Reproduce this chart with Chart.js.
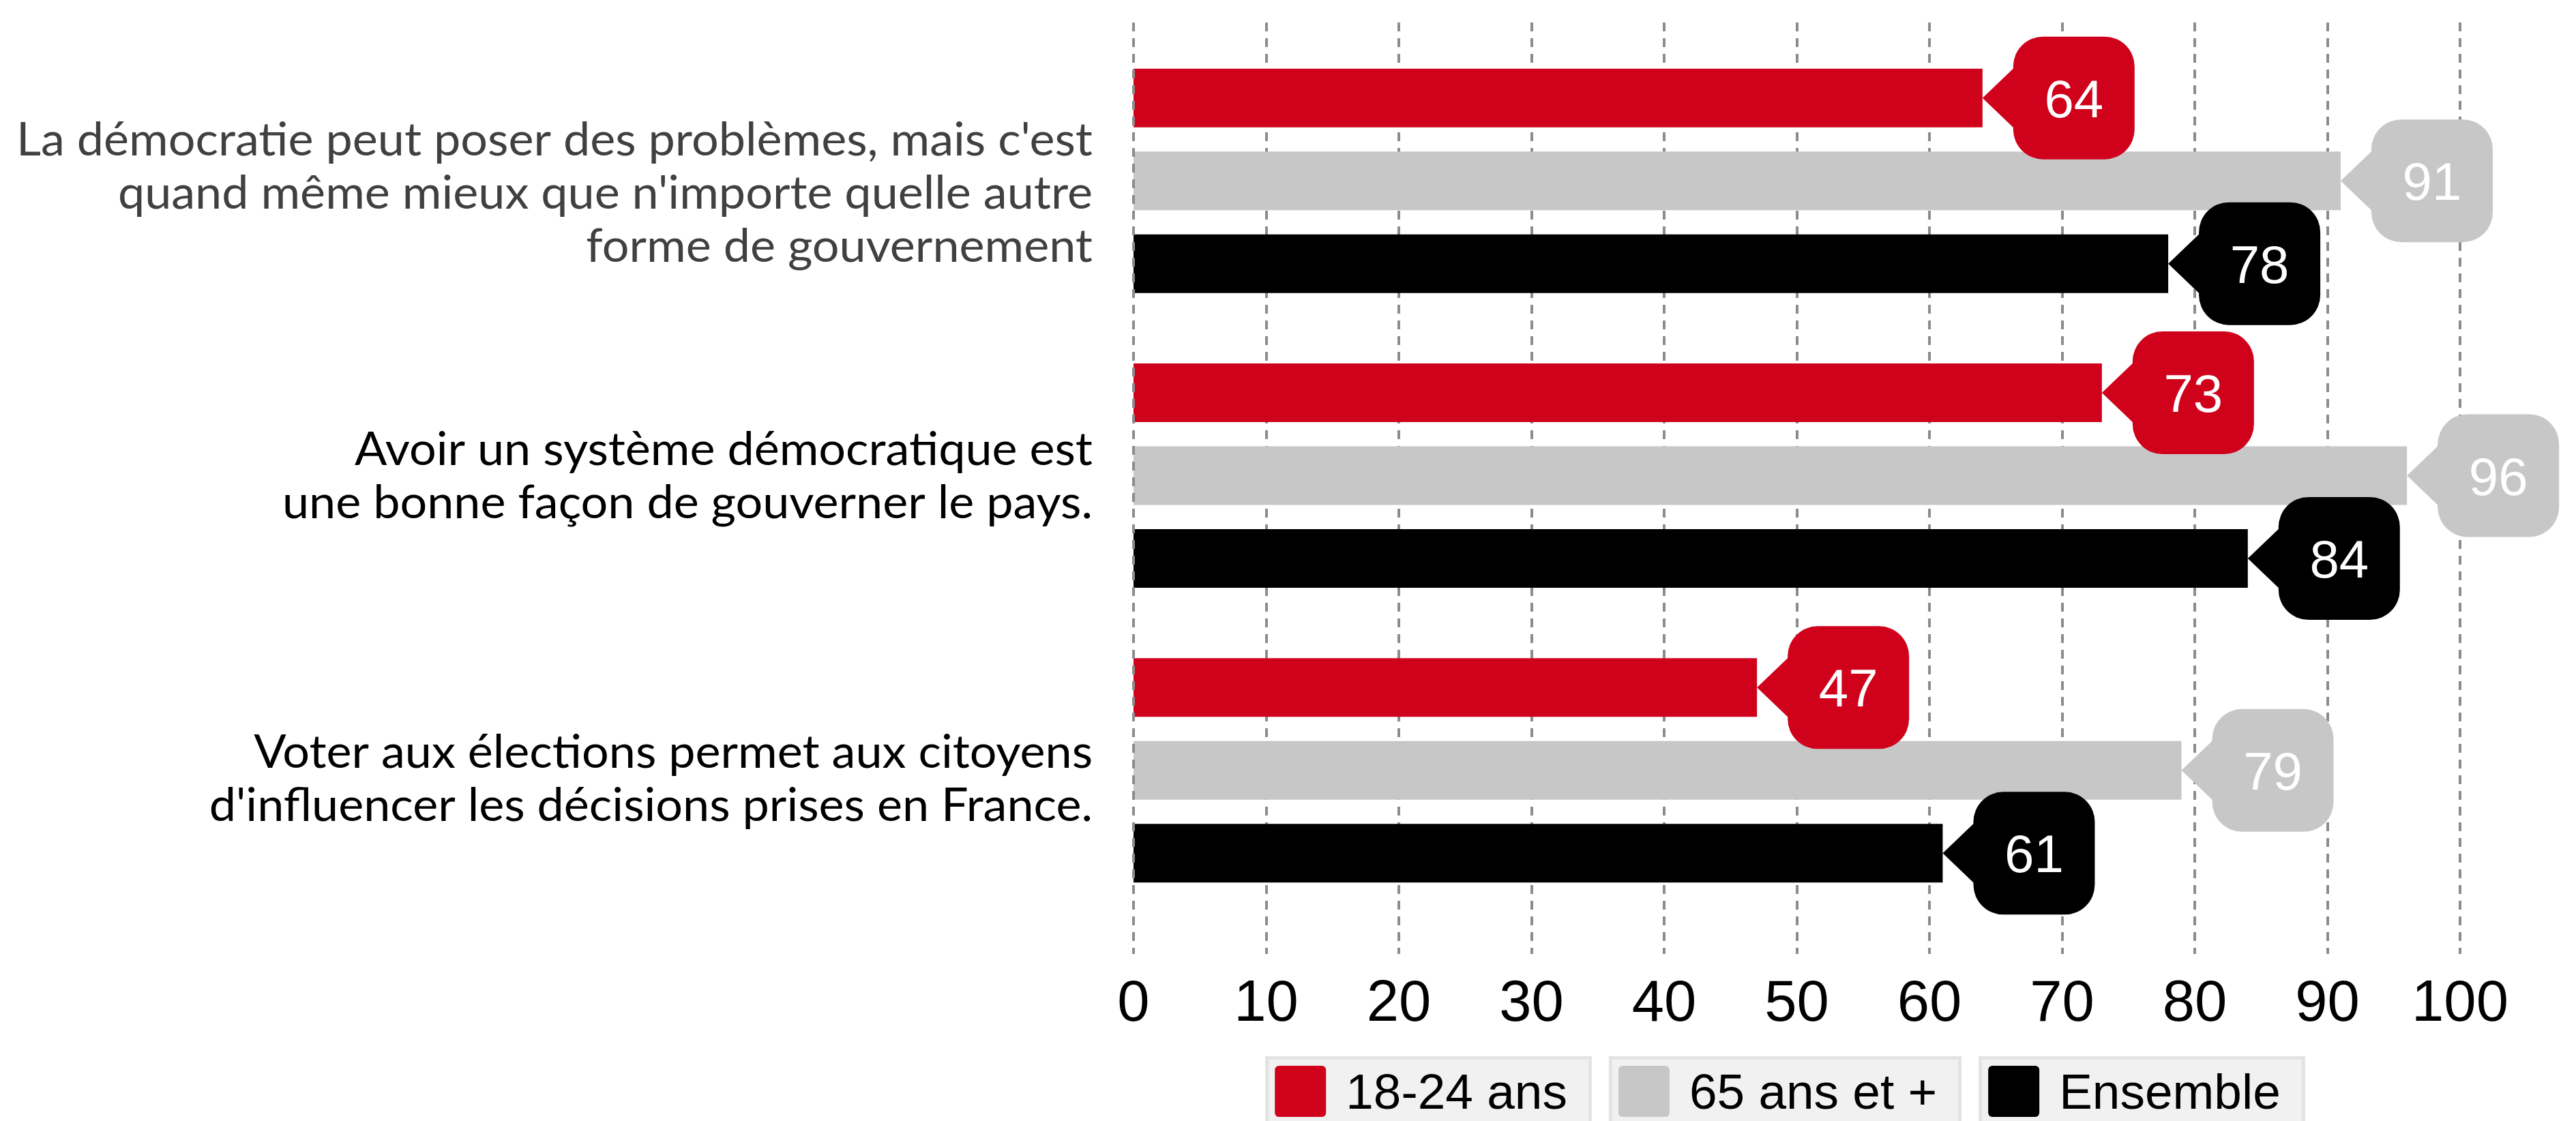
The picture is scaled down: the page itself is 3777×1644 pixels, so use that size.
<!DOCTYPE html>
<html lang="fr">
<head>
<meta charset="utf-8">
<title>Démocratie - 18-24 ans / 65 ans et + / Ensemble</title>
<script src="https://cdn.jsdelivr.net/npm/chart.js@4.4.0/dist/chart.umd.min.js"></script>
<style>
  html, body { margin: 0; padding: 0; background: #fff; }
  #wrap { width: 3777px; height: 1644px; }
</style>
</head>
<body>
<div id="wrap"><canvas id="myChart" width="3777" height="1644"></canvas></div>
<script>
// Questions (one array of lines per category)
const categories = [
    ["La démocratie peut poser des problèmes, mais c'est", "quand même mieux que n'importe quelle autre", "forme de gouvernement"],
    ["Avoir un système démocratique est", "une bonne façon de gouverner le pays."],
    ["Voter aux élections permet aux citoyens", "d'influencer les décisions prises en France."]
];
const seriesNames = ['18-24 ans', '65 ans et +', 'Ensemble'];
const jeunes = [64, 73, 47];
const seniors = [91, 96, 79];
const ensemble = [78, 84, 61];
const xMin = 0;
const xMax = 100;
const xStep = 10;

const colors = ['#d0011b', '#c7c7c7', '#000000'];
const labelColors = ['#404040', '#000000', '#000000'];
const labelShift = [18, 0, 12]; // small vertical nudges of the question blocks
const numFont = '"Liberation Sans", Arial, sans-serif';
const labelFont = 'Lato, "Open Sans", sans-serif';

// Dashed vertical grid lines, a bit taller than the plot area
function drawGrid(chart, zeroOnly) {
    const { ctx, chartArea, scales } = chart;
    ctx.save();
    ctx.strokeStyle = '#8c8c8c';
    ctx.lineWidth = 4;
    ctx.setLineDash([13, 10]);
    scales.x.ticks.forEach(t => {
        if ((t.value === 0) !== zeroOnly) return;
        const px = Math.round(scales.x.getPixelForValue(t.value));
        ctx.beginPath();
        ctx.moveTo(px, chartArea.top - 16);
        ctx.lineTo(px, chartArea.bottom + 53);
        ctx.stroke();
    });
    ctx.restore();
}

const gridPlugin = {
    id: 'gridPlugin',
    beforeDatasetsDraw(chart) { drawGrid(chart, false); },
    afterDatasetsDraw(chart) { drawGrid(chart, true); }
};

// Speech-bubble value labels at the end of each bar
const calloutPlugin = {
    id: 'calloutPlugin',
    afterDatasetsDraw(chart) {
        const ctx = chart.ctx;
        const w = 178, h = 180, r = 44, arrow = 45;
        chart.data.datasets.forEach((ds, di) => {
            chart.getDatasetMeta(di).data.forEach((bar, i) => {
                const tipX = bar.x, y = bar.y;
                const bx = tipX + arrow;
                ctx.save();
                ctx.fillStyle = ds.backgroundColor;
                ctx.beginPath();
                ctx.roundRect(bx, y - h / 2, w, h, r);
                ctx.fill();
                ctx.beginPath();
                ctx.moveTo(tipX, y);
                ctx.lineTo(bx + 2, y - arrow);
                ctx.lineTo(bx + 2, y + arrow);
                ctx.closePath();
                ctx.fill();
                ctx.fillStyle = '#ffffff';
                ctx.font = '78px ' + numFont;
                ctx.textAlign = 'center';
                ctx.textBaseline = 'alphabetic';
                ctx.fillText(String(ds.data[i]), bx + w / 2, y + 28);
                ctx.restore();
            });
        });
    }
};

// Category labels, right aligned and fitted to the left margin width
const labelPlugin = {
    id: 'labelPlugin',
    afterDraw(chart) {
        const { ctx, chartArea, scales } = chart;
        const maxWidth = 1578;
        const lineH = 78;
        ctx.save();
        ctx.font = '68px ' + labelFont;
        let widest = 0;
        categories.forEach(lines => lines.forEach(l => { widest = Math.max(widest, ctx.measureText(l).width); }));
        const sx = maxWidth / widest;
        const right = chartArea.left - 60;
        ctx.textAlign = 'right';
        ctx.textBaseline = 'alphabetic';
        categories.forEach((lines, i) => {
            const cy = scales.y.getPixelForTick(i) + labelShift[i];
            const y0 = cy - (lines.length - 1) * lineH / 2;
            ctx.fillStyle = labelColors[i];
            lines.forEach((line, j) => {
                ctx.save();
                ctx.translate(right, y0 + j * lineH + 23);
                ctx.scale(sx, 1);
                ctx.fillText(line, 0, 0);
                ctx.restore();
            });
        });
        ctx.restore();
    }
};

// Legend: boxed items centred under the plot
const legendPlugin = {
    id: 'legendPlugin',
    afterDraw(chart) {
        const { ctx, chartArea } = chart;
        const top = chart.height - 95;
        const pad = 14, sq = 75, gapText = 29, padRight = 36, gap = 25;
        ctx.save();
        ctx.font = '73px ' + numFont;
        const items = chart.data.datasets.map(ds => ({
            label: ds.label,
            color: ds.backgroundColor,
            w: pad + sq + gapText + ctx.measureText(ds.label).width + padRight
        }));
        const total = items.reduce((s, it) => s + it.w, 0) + gap * (items.length - 1);
        let x = (chartArea.left + chartArea.right) / 2 - 17 - total / 2;
        items.forEach(it => {
            ctx.fillStyle = '#f1f1f1';
            ctx.fillRect(x, top, it.w, 140);
            ctx.strokeStyle = '#e3e3e3';
            ctx.lineWidth = 5;
            ctx.strokeRect(x + 2.5, top + 2.5, it.w - 5, 140);
            ctx.fillStyle = it.color;
            ctx.beginPath();
            ctx.roundRect(x + pad, top + pad, sq, sq, 6);
            ctx.fill();
            ctx.fillStyle = '#000000';
            ctx.textAlign = 'left';
            ctx.textBaseline = 'alphabetic';
            ctx.fillText(it.label, x + pad + sq + gapText, top + 77);
            x += it.w + gap;
        });
        ctx.restore();
    }
};

document.addEventListener('DOMContentLoaded', () => {
    const ctx = document.getElementById('myChart').getContext('2d');
    new Chart(ctx, {
        type: 'bar',
        data: {
            labels: categories,
            datasets: [
                { label: seriesNames[0], data: jeunes, backgroundColor: colors[0] },
                { label: seriesNames[1], data: seniors, backgroundColor: colors[1] },
                { label: seriesNames[2], data: ensemble, backgroundColor: colors[2] }
            ]
        },
        options: {
            indexAxis: 'y',
            responsive: false,
            animation: false,
            devicePixelRatio: 1,
            categoryPercentage: 0.843,
            barPercentage: 0.708,
            layout: { padding: { left: 0, right: 170, top: 49, bottom: 0 } },
            plugins: {
                legend: { display: false },
                tooltip: { enabled: false }
            },
            scales: {
                x: {
                    type: 'linear',
                    position: 'bottom',
                    min: xMin,
                    max: xMax,
                    grid: { display: false, drawTicks: false },
                    border: { display: false },
                    ticks: {
                        stepSize: xStep,
                        padding: 77,
                        color: '#000000',
                        font: { family: numFont, size: 85 }
                    },
                    afterFit(scale) { scale.height = 298; }
                },
                y: {
                    type: 'category',
                    offset: true,
                    grid: { display: false, drawTicks: false },
                    border: { display: false },
                    ticks: { display: false },
                    afterFit(scale) { scale.width = 1662; }
                }
            }
        },
        plugins: [gridPlugin, calloutPlugin, labelPlugin, legendPlugin]
    });
});
</script>
</body>
</html>
